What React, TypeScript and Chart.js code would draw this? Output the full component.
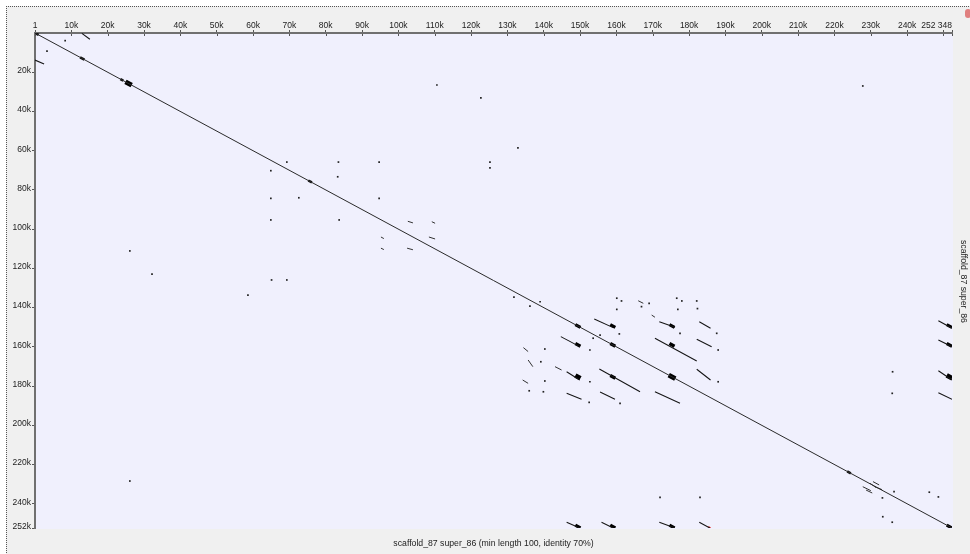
import React, { useEffect, useRef } from "react";
import { Chart, registerables } from "chart.js";

Chart.register(...registerables);

// Sequence length (kb) of scaffold_87 super_86 (self dot plot)
const SEQ_LEN_KB = 252.348;

// X (top) axis ticks, kb
const xTickValues = [0, 10, 20, 30, 40, 50, 60, 70, 80, 90, 100, 110, 120, 130, 140, 150, 160, 170, 180, 190, 200, 210, 220, 230, 240, 248.1, 250, 252.348];
const xTickLabels = ["1", "10k", "20k", "30k", "40k", "50k", "60k", "70k", "80k", "90k", "100k", "110k", "120k", "130k", "140k", "150k", "160k", "170k", "180k", "190k", "200k", "210k", "220k", "230k", "240k", "252 348", "", ""];
const X_LABEL_ONLY = 248.1;

// Y (left) axis ticks, kb
const yTickValues = [20, 40, 60, 80, 100, 120, 140, 160, 180, 200, 220, 240, 252.348];
const yTickLabels = ["20k", "40k", "60k", "80k", "100k", "120k", "140k", "160k", "180k", "200k", "220k", "240k", "252k"];

// Main self-alignment diagonal [x1, y1, x2, y2] in kb
const diagonal = [[0, 0, SEQ_LEN_KB, SEQ_LEN_KB]];

// Off-diagonal repeat alignments [x1, y1, x2, y2] in kb
const repeatSegments = [
  [12.9, 0.2, 15.1, 3.2],
  [0.0, 13.8, 2.5, 15.8],
  [153.9, 145.8, 159.1, 150.2],
  [171.8, 147.2, 176.1, 150.0],
  [182.8, 147.2, 185.9, 150.5],
  [144.7, 154.8, 149.9, 159.9],
  [170.6, 155.6, 182.1, 167.2],
  [182.1, 156.1, 186.2, 159.9],
  [146.3, 172.7, 149.9, 176.9],
  [155.3, 171.3, 166.5, 182.9],
  [182.1, 171.4, 185.9, 176.9],
  [146.3, 183.7, 150.4, 186.7],
  [155.5, 183.0, 159.6, 186.7],
  [170.6, 182.9, 177.5, 188.8],
  [248.6, 146.7, 252.348, 150.5],
  [248.6, 156.5, 252.348, 159.9],
  [248.6, 172.2, 252.348, 176.9],
  [248.6, 183.4, 252.348, 186.7],
  [146.3, 249.4, 149.9, 252.348],
  [155.9, 249.4, 159.1, 252.348],
  [171.8, 249.4, 176.1, 252.348],
  [182.8, 249.4, 185.7, 252.348],
];

// Short alignments [x1, y1, x2, y2] in kb
const shortDashes = [
  [102.6, 96.0, 104.0, 96.8],
  [109.2, 96.2, 110.1, 97.0],
  [95.2, 104.0, 96.0, 104.8],
  [108.4, 104.0, 110.1, 105.0],
  [95.2, 109.7, 96.0, 110.4],
  [102.4, 109.7, 104.0, 110.5],
  [134.4, 160.4, 135.7, 162.4],
  [135.7, 166.7, 137.0, 170.1],
  [143.1, 170.1, 144.9, 171.8],
  [134.2, 176.9, 135.7, 178.6],
  [166.0, 136.5, 167.4, 137.8],
  [169.7, 143.8, 170.6, 144.9],
  [230.6, 228.7, 232.3, 230.4],
  [229.8, 229.6, 231.4, 231.6],
  [227.8, 231.3, 230.0, 233.3],
  [231.1, 231.3, 233.1, 232.8],
  [228.7, 233.0, 230.4, 234.5],
];

// Dense (high-scoring) blocks [x1, y1, x2, y2] in kb
const smallBlocks = [
  [0, 0, 1.0, 1.0],
  [12.4, 12.4, 13.6, 13.6],
  [23.5, 23.5, 24.3, 24.3],
  [75.2, 75.2, 76.2, 76.2],
  [223.5, 223.5, 224.5, 224.5],
];
const denseBlocks = [
  [148.7, 148.7, 150.1, 150.1],
  [158.3, 158.3, 159.7, 159.7],
  [158.3, 148.7, 159.7, 150.1],
  [174.6, 148.7, 176.0, 150.1],
  [148.7, 158.3, 150.1, 159.7],
  [174.6, 158.3, 176.0, 159.7],
  [158.3, 174.6, 159.7, 176.0],
  [250.9, 148.7, 252.348, 150.1],
  [250.9, 158.3, 252.348, 159.7],
  [148.7, 250.9, 150.1, 252.348],
  [158.3, 250.9, 159.7, 252.348],
  [174.6, 250.9, 176.0, 252.348],
  [250.9, 250.9, 252.348, 252.348],
];
const denseBlocksBig = [
  [24.9, 24.9, 26.6, 26.6],
  [174.4, 174.4, 176.2, 176.2],
  [148.7, 174.6, 150.1, 176.0],
  [250.9, 174.6, 252.348, 176.0],
];
const reverseHit = [[185.3, 251.6, 185.9, 252.348]];

// Single short hits [x, y] in kb
const hitDots = [
  [8.3, 3.9], [3.3, 9.2], [110.6, 26.5], [122.7, 33.1], [227.8, 27.0],
  [26.1, 111.1], [32.2, 122.9], [58.6, 133.6], [65.1, 125.9], [69.3, 125.9],
  [69.3, 65.8], [64.9, 70.2], [83.5, 65.8], [83.3, 73.3], [94.7, 65.8],
  [64.9, 84.3], [72.6, 84.0], [94.7, 84.3], [64.9, 95.3], [83.7, 95.3],
  [125.2, 65.8], [125.2, 68.8], [132.9, 58.6], [131.8, 134.6], [26.1, 228.4],
  [172.0, 236.7], [183.0, 236.7], [236.0, 172.7], [235.9, 183.7], [236.4, 233.8],
  [246.1, 234.1], [248.6, 236.5], [233.2, 237.0], [233.3, 246.6], [235.9, 249.4],
  [139.0, 137.0], [136.2, 139.2], [160.8, 153.4], [177.5, 153.1], [187.6, 153.1],
  [152.7, 161.6], [155.5, 154.0], [153.6, 155.6], [188.0, 161.6], [140.3, 161.1],
  [139.2, 167.6], [152.7, 177.8], [188.0, 177.8], [140.3, 177.4], [139.9, 182.9],
  [136.0, 182.4], [152.5, 188.3], [161.0, 188.8], [160.1, 135.2], [161.4, 136.6],
  [169.0, 137.8], [176.6, 135.2], [178.0, 136.6], [182.1, 136.6], [160.1, 140.9],
  [166.9, 139.5], [182.3, 140.5], [176.9, 140.9],
];

const FONT_FAMILY = "'Liberation Sans', Arial, sans-serif";

function segPoints(segs: number[][]) {
  const pts: { x: number; y: number | null }[] = [];
  for (const [x1, y1, x2, y2] of segs) {
    pts.push({ x: x1, y: y1 }, { x: x2, y: y2 }, { x: x2, y: null });
  }
  return pts;
}

function segDataset(segs: number[][], color: string, width: number) {
  return {
    data: segPoints(segs),
    borderColor: color,
    borderWidth: width,
    borderCapStyle: "butt" as const,
    pointRadius: 0,
    showLine: true,
    spanGaps: false,
    tension: 0,
    clip: 0,
  };
}

const backgroundPlugin = {
  id: "dotplotBackground",
  beforeDraw(chart: any) {
    const { ctx, width, height, chartArea } = chart;
    ctx.save();
    ctx.fillStyle = "#ffffff";
    ctx.fillRect(0, 0, width, height);
    ctx.fillStyle = "#f0f0f0";
    ctx.fillRect(6, 6, width - 6, height - 6);
    ctx.strokeStyle = "#555555";
    ctx.lineWidth = 1;
    ctx.setLineDash([1, 1]);
    ctx.beginPath();
    ctx.moveTo(6, 6.5);
    ctx.lineTo(width, 6.5);
    ctx.moveTo(6.5, 6);
    ctx.lineTo(6.5, height);
    ctx.stroke();
    ctx.setLineDash([]);
    ctx.fillStyle = "#f0f0fd";
    ctx.fillRect(chartArea.left, chartArea.top, chartArea.right - chartArea.left + 1, chartArea.bottom - chartArea.top + 1);
    ctx.restore();
  },
  afterDraw(chart: any) {
    const { ctx } = chart;
    const xs = chart.scales.x;
    const top = chart.chartArea.top;
    ctx.save();
    ctx.strokeStyle = "#555555";
    ctx.lineWidth = 1;
    ctx.beginPath();
    for (const v of xTickValues) {
      if (v === X_LABEL_ONLY) continue;
      const px = Math.round(xs.getPixelForValue(v)) + 0.5;
      ctx.moveTo(px, top + 1);
      ctx.lineTo(px, top + 3);
    }
    ctx.stroke();
    ctx.restore();
  },
};

export default function App() {
  const canvasRef = useRef<HTMLCanvasElement | null>(null);

  useEffect(() => {
    if (!canvasRef.current) return;
    const chart = new Chart(canvasRef.current, {
      type: "line",
      data: {
        datasets: [
          segDataset(diagonal, "#2a2a2a", 1),
          segDataset(repeatSegments, "#151515", 1.05),
          segDataset(shortDashes, "#333333", 1),
          segDataset(smallBlocks, "#111111", 2.5),
          segDataset(denseBlocks, "#000000", 3.2),
          segDataset(denseBlocksBig, "#000000", 4.8),
          segDataset(reverseHit, "#e03030", 1.5),
          {
            data: hitDots.map(([x, y]) => ({ x, y })),
            showLine: false,
            pointStyle: "rect",
            pointRadius: 1.2,
            pointBorderWidth: 0,
            pointBackgroundColor: "#222222",
            borderColor: "#222222",
            clip: 0,
          },
        ] as any,
      },
      options: {
        animation: false,
        responsive: false,
        maintainAspectRatio: false,
        devicePixelRatio: 1,
        events: [],
        layout: { padding: { left: 0, top: 0, right: 18, bottom: 26 } },
        plugins: { legend: { display: false }, tooltip: { enabled: false }, title: { display: false } },
        scales: {
          x: {
            type: "linear",
            position: "top",
            min: 0,
            max: SEQ_LEN_KB,
            bounds: "data",
            afterBuildTicks: (s: any) => {
              s.ticks = xTickValues.map((v) => ({ value: v }));
            },
            afterFit: (s: any) => {
              s.height = 33;
            },
            ticks: {
              autoSkip: false,
              maxRotation: 0,
              minRotation: 0,
              padding: -1,
              color: "#222222",
              font: { family: FONT_FAMILY, size: 8.5 },
              callback: (_v: any, i: number) => xTickLabels[i],
            },
            grid: {
              drawOnChartArea: false,
              drawTicks: true,
              tickLength: 3,
              tickColor: (ctx: any) => (ctx.tick && ctx.tick.value === X_LABEL_ONLY ? "rgba(0,0,0,0)" : "#555555"),
            },
            border: { display: true, color: "#707070", width: 2 },
          } as any,
          y: {
            type: "linear",
            position: "left",
            reverse: true,
            min: 0,
            max: SEQ_LEN_KB,
            bounds: "data",
            afterBuildTicks: (s: any) => {
              s.ticks = yTickValues.map((v) => ({ value: v }));
            },
            afterFit: (s: any) => {
              s.width = 35;
            },
            ticks: {
              autoSkip: false,
              padding: 1,
              labelOffset: -1.5,
              color: "#222222",
              font: { family: FONT_FAMILY, size: 8.5 },
              callback: (_v: any, i: number) => yTickLabels[i],
            },
            grid: {
              drawOnChartArea: false,
              drawTicks: true,
              tickLength: 3,
              tickColor: "#555555",
            },
            border: { display: true, color: "#707070", width: 2 },
          } as any,
        },
      },
      plugins: [backgroundPlugin],
    });
    return () => chart.destroy();
  }, []);

  const textStyle: React.CSSProperties = {
    position: "absolute",
    fontFamily: FONT_FAMILY,
    fontSize: "8.7px",
    lineHeight: "10px",
    color: "#222222",
    whiteSpace: "nowrap",
  };

  return (
    <div style={{ position: "absolute", left: 0, top: 0, width: 970, height: 554, overflow: "hidden", background: "#ffffff" }}>
      <canvas ref={canvasRef} width={970} height={554} style={{ position: "absolute", left: 0, top: 0, width: 970, height: 554 }} />
      <div style={{ ...textStyle, left: 35, width: 917, top: 538, textAlign: "center" }}>
        scaffold_87 super_86 (min length 100, identity 70%)
      </div>
      <div style={{ ...textStyle, left: 959, top: 240, writingMode: "vertical-rl" }}>scaffold_87 super_86</div>
      <div style={{ position: "absolute", left: 965, top: 9, width: 6, height: 9, background: "#e08080", borderRadius: 3 }} />
    </div>
  );
}
